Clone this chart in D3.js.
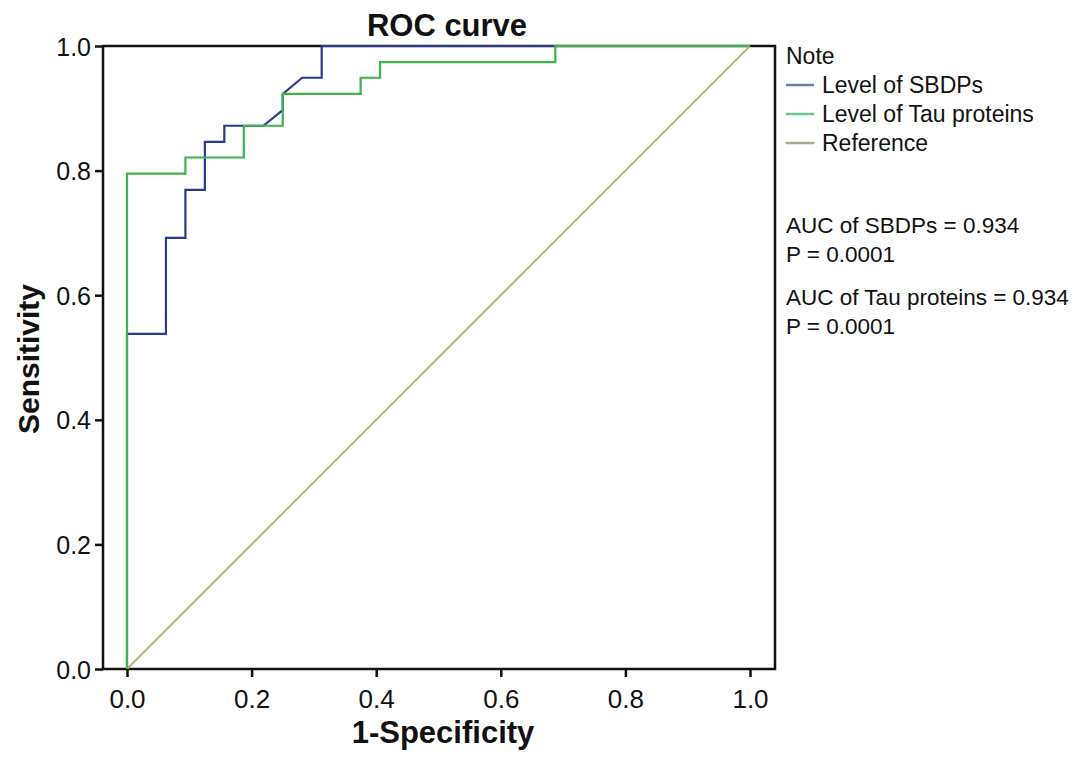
<!DOCTYPE html>
<html>
<head>
<meta charset="utf-8">
<script src="https://cdn.jsdelivr.net/npm/d3@7"></script>
<style>
  body { margin: 0; background: #fff; }
  text { font-family: "Liberation Sans", Arial, sans-serif; }
</style>
</head>
<body>
<svg class="vis" width="1087" height="762"></svg>
<script>
// ROC points (1-specificity, sensitivity)
const sbdpX = [0, 0, 0.0625, 0.0625, 0.09375, 0.09375, 0.125, 0.125, 0.15625, 0.15625, 0.21875, 0.25, 0.25, 0.28125, 0.3125, 0.3125, 1];
const sbdpY = [0, 0.538, 0.538, 0.692, 0.692, 0.769, 0.769, 0.846, 0.846, 0.872, 0.872, 0.897, 0.923, 0.949, 0.949, 1, 1];

const tauX = [0, 0, 0.09375, 0.09375, 0.1875, 0.1875, 0.25, 0.25, 0.375, 0.375, 0.40625, 0.40625, 0.6875, 0.6875, 1];
const tauY = [0, 0.795, 0.795, 0.821, 0.821, 0.872, 0.872, 0.923, 0.923, 0.949, 0.949, 0.974, 0.974, 1, 1];

const refX = [0, 1];
const refY = [0, 1];

const xTicks = [0, 0.2, 0.4, 0.6, 0.8, 1.0];
const yTicks = [0, 0.2, 0.4, 0.6, 0.8, 1.0];

const legendNames = ["Level of SBDPs", "Level of Tau proteins", "Reference"];
const noteLines = ["AUC of SBDPs = 0.934", "P = 0.0001", "AUC of Tau proteins = 0.934", "P = 0.0001"];

const v = {

    cols : { sbdp : "#2b3a8c", tau : "#3db34a", ref : "#b3b888" },
    legendCols : ["#6b7eb3", "#66c48d", "#a9ab86"],

    box : { left : 103, right : 775, top : 46, bottom : 669 },

    draw : () => {

        const svg = d3.select("svg.vis");
        const b = v.box;

        const x = d3.scaleLinear().domain([0, 1]).range([127, 750]);
        const y = d3.scaleLinear().domain([0, 1]).range([669, 46]);

        const line = d3.line().x(d => x(d[0])).y(d => y(d[1]));

        // frame
        svg.append("rect")
          .attr("x", b.left).attr("y", b.top)
          .attr("width", b.right - b.left).attr("height", b.bottom - b.top)
          .attr("fill", "none").attr("stroke", "#111").attr("stroke-width", 2.5);

        // curves
        svg.append("path")
          .attr("d", line(d3.zip(refX, refY)))
          .attr("fill", "none").attr("stroke", v.cols.ref).attr("stroke-width", 2);

        svg.append("path")
          .attr("d", line(d3.zip(sbdpX, sbdpY)))
          .attr("fill", "none").attr("stroke", v.cols.sbdp).attr("stroke-width", 2.2);

        svg.append("path")
          .attr("d", line(d3.zip(tauX, tauY)))
          .attr("fill", "none").attr("stroke", v.cols.tau).attr("stroke-width", 2.2);

        // axes
        const xAxis = svg.append("g")
          .attr("transform", `translate(0,${b.bottom})`)
          .call(d3.axisBottom(x).tickValues(xTicks).tickFormat(d3.format(".1f")).tickSizeOuter(0).tickSize(8));
        xAxis.select(".domain").remove();

        const yAxis = svg.append("g")
          .attr("transform", `translate(${b.left},0)`)
          .call(d3.axisLeft(y).tickValues(yTicks).tickFormat(d3.format(".1f")).tickSizeOuter(0).tickSize(8));
        yAxis.select(".domain").remove();

        svg.selectAll(".tick line").attr("stroke", "#111").attr("stroke-width", 2.5);
        xAxis.selectAll(".tick text")
          .attr("font-size", 26).attr("fill", "#111").attr("y", 39).attr("dy", 0)
          .attr("font-family", "'Liberation Sans Narrow', 'Liberation Sans', Arial");
        yAxis.selectAll(".tick text")
          .attr("font-size", 25).attr("fill", "#111").attr("dy", "0.36em").attr("x", -12);

        // titles
        svg.append("text")
          .attr("x", 447).attr("y", 36).attr("text-anchor", "middle")
          .attr("font-size", 31).attr("font-weight", "bold").attr("fill", "#111")
          .text("ROC curve");

        svg.append("text")
          .attr("x", 443).attr("y", 743).attr("text-anchor", "middle")
          .attr("font-size", 31).attr("font-weight", "bold").attr("fill", "#111")
          .text("1-Specificity");

        svg.append("text")
          .attr("transform", "translate(39,359) rotate(-90)")
          .attr("text-anchor", "middle")
          .attr("font-size", 30).attr("font-weight", "bold").attr("fill", "#111")
          .text("Sensitivity");

        // legend
        const lg = svg.append("g");
        lg.append("text")
          .attr("x", 786).attr("y", 64)
          .attr("font-size", 23).attr("fill", "#111")
          .text("Note");

        const rows = lg.selectAll("g.row")
          .data(legendNames)
          .join("g")
          .attr("class", "row")
          .attr("transform", (d, i) => `translate(0,${85 + i * 29})`);

        rows.append("line")
          .attr("x1", 786).attr("x2", 814)
          .attr("y1", 0).attr("y2", 0)
          .attr("stroke", (d, i) => v.legendCols[i]).attr("stroke-width", 2.5);

        rows.append("text")
          .attr("x", 822).attr("y", 8)
          .attr("font-size", 23).attr("fill", "#111")
          .text(d => d);

        // AUC notes
        const noteY = [233, 262, 305, 334];
        lg.selectAll("text.note")
          .data(noteLines)
          .join("text")
          .attr("class", "note")
          .attr("x", 786).attr("y", (d, i) => noteY[i])
          .attr("font-size", 22.5).attr("fill", "#111")
          .text(d => d);

    }

};

v.draw();
</script>
</body>
</html>
